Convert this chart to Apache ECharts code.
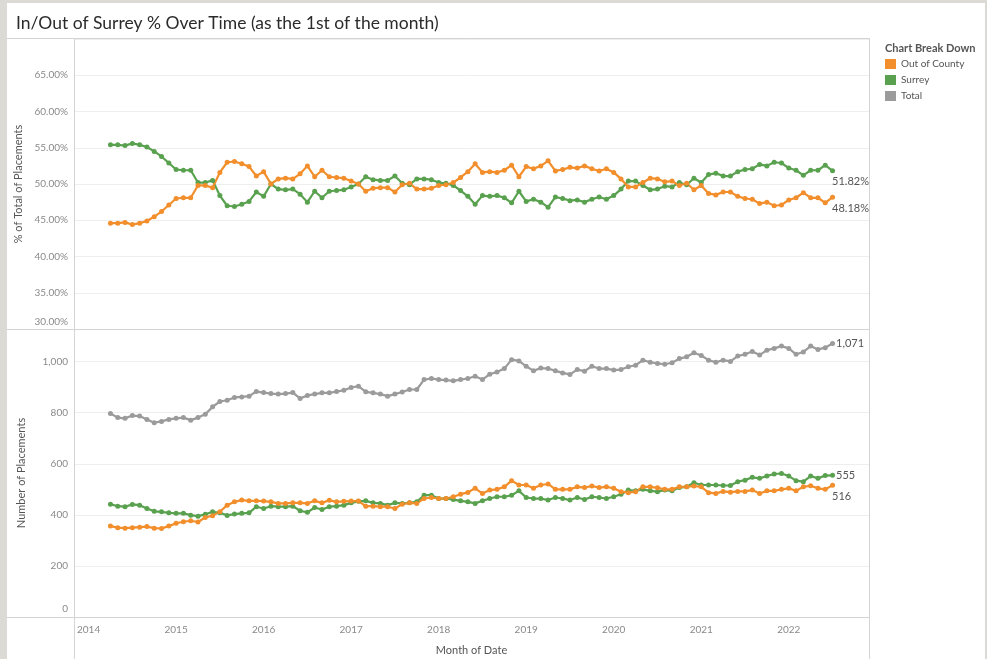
<!DOCTYPE html>
<html>
<head>
<meta charset="utf-8">
<script src="https://cdn.jsdelivr.net/npm/echarts@6/dist/echarts.min.js"></script>
<style>
  html, body { margin: 0; padding: 0; background: #dcdad5; }
  #sheet { position: absolute; left: 7px; top: 3px; width: 978px; height: 656px; background: #fff; }
  #chart { position: absolute; left: 0; top: 0; width: 987px; height: 659px; }
</style>
</head>
<body>
<div id="sheet"></div>
<div id="chart"></div>
<script>
// months are counted from Jan 2014 (0); first point is Apr 2014
const FIRST_MONTH = 3;
const YEARS = [2014, 2015, 2016, 2017, 2018, 2019, 2020, 2021, 2022];

// % of total placements
const pctOut = [
  44.6, 44.6, 44.7, 44.4, 44.6, 44.9, 45.5, 46.2, 47.1, 48.0, 48.1, 48.1, 49.8, 49.8, 49.5, 51.6, 53.0, 53.1, 52.8, 52.4,
  51.1, 51.7, 50.0, 50.7, 50.8, 50.7, 51.4, 52.5, 51.0, 51.9, 51.0, 50.9, 50.8, 50.4, 50.0,
  49.0, 49.4, 49.5, 49.5, 48.9, 49.9, 50.1, 49.3, 49.3, 49.4, 49.8, 49.9, 50.2, 50.9, 51.7, 52.8, 51.6, 51.7, 51.6, 51.9,
  52.6, 51.0, 52.4, 52.1, 52.5, 53.2, 51.8, 52.0, 52.3, 52.2, 52.5, 52.1,
  51.8, 52.1, 51.6, 50.7, 49.6, 49.6, 50.2, 50.8, 50.7, 50.3, 50.4, 49.8, 50.1, 49.2, 49.8, 48.7, 48.5, 48.9, 48.9, 48.3,
  48.0, 47.9, 47.3, 47.5, 47.0, 47.1, 47.8, 48.1, 48.8, 48.1, 48.1, 47.4, 48.18
];
const pctSurrey = [
  55.4, 55.4, 55.3, 55.6, 55.4, 55.1, 54.5, 53.8, 52.9, 52.0, 51.9, 51.9, 50.2, 50.2, 50.5, 48.4, 47.0, 46.9, 47.2, 47.6,
  48.9, 48.3, 50.0, 49.3, 49.2, 49.3, 48.6, 47.5, 49.0, 48.1, 49.0, 49.1, 49.2, 49.6, 50.0,
  51.0, 50.6, 50.5, 50.5, 51.1, 50.1, 49.9, 50.7, 50.7, 50.6, 50.2, 50.1, 49.8, 49.1, 48.3, 47.2, 48.4, 48.3, 48.4, 48.1,
  47.4, 49.0, 47.6, 47.9, 47.5, 46.8, 48.2, 48.0, 47.7, 47.8, 47.5, 47.9,
  48.2, 47.9, 48.4, 49.3, 50.4, 50.4, 49.8, 49.2, 49.3, 49.7, 49.6, 50.2, 49.9, 50.8, 50.2, 51.3, 51.5, 51.1, 51.1, 51.7,
  52.0, 52.1, 52.7, 52.5, 53.0, 52.9, 52.2, 51.9, 51.2, 51.9, 51.9, 52.6, 51.82
];

// number of placements
const numOut = [
  356, 350, 348, 350, 352, 354, 348, 347, 356, 367, 373, 377, 372, 390, 397, 412, 438, 451, 458, 455,
  455, 454, 451, 445, 445, 447, 447, 445, 455, 447, 457, 451, 453, 454, 454,
  434, 434, 432, 432, 425, 442, 447, 445, 464, 468, 464, 464, 471, 481, 488, 504, 484, 497, 500, 510,
  534, 517, 517, 504, 517, 521, 500, 500, 500, 510, 507, 513,
  507, 510, 504, 491, 487, 491, 510, 510, 506, 500, 500, 510, 510, 513, 510, 487, 484, 492, 489, 492,
  492, 497, 484, 494, 494, 500, 504, 494, 510, 514, 504, 500, 516
];
const numSurrey = [
  442, 434, 432, 441, 438, 425, 414, 412, 408, 406, 406, 399, 395, 402, 412, 408, 398, 403, 406, 408,
  432, 425, 434, 432, 432, 434, 416, 410, 429, 421, 432, 434, 438, 447, 453,
  455, 447, 445, 438, 447, 445, 447, 451, 477, 477, 464, 464, 460, 455, 451, 445, 455, 464, 471, 471,
  477, 494, 468, 464, 464, 458, 468, 464, 458, 468, 460, 471,
  468, 464, 471, 481, 497, 494, 500, 494, 491, 497, 494, 507, 510, 526, 517, 517, 517, 515, 515, 530,
  536, 547, 543, 552, 560, 562, 552, 534, 530, 552, 543, 554, 555
];
const numTotal = [
  797, 781, 778, 789, 787, 774, 761, 766, 774, 778, 781, 771, 781, 794, 823, 844, 849, 860, 862, 865,
  883, 879, 875, 873, 875, 879, 856, 868, 873, 878, 878, 883, 888, 899, 904,
  882, 878, 873, 865, 873, 881, 891, 891, 930, 934, 930, 928, 925, 930, 934, 943, 930, 951, 960, 973,
  1008, 1003, 982, 964, 975, 973, 964, 956, 950, 969, 963, 982,
  973, 973, 967, 969, 980, 986, 1006, 998, 993, 990, 996, 1012, 1019, 1035, 1024, 1006, 998, 1006, 1001, 1022,
  1029, 1040, 1026, 1045, 1052, 1061, 1052, 1029, 1038, 1061, 1048, 1055, 1071
];

const FONT = "Lato, 'Noto Sans', sans-serif";
const COLORS = { out: "#f28e2b", surrey: "#59a14f", total: "#9b9b9b" };

function pts(values, endLabel) {
  return values.map((v, i) => {
    const p = [FIRST_MONTH + i, v];
    if (i === values.length - 1) return { value: p, label: Object.assign({ show: true }, endLabel) };
    return p;
  });
}
const fmtPct = (p) => p.value[1].toFixed(2) + "%";
const fmtNum = (p) => p.value[1].toLocaleString("en-US");
const endRight = { position: "right", distance: 1 };
const endBelow = { position: "right", distance: 1, offset: [-4, 11] };

function lineSeries(name, color, values, grid, fmt, endLabel) {
  return {
    name: name,
    type: "line",
    xAxisIndex: grid,
    yAxisIndex: grid,
    data: pts(values, endLabel),
    symbol: "circle",
    symbolSize: 5,
    showAllSymbol: true,
    lineStyle: { width: 2.2, color: color },
    itemStyle: { color: color },
    label: { show: false, formatter: fmt, color: "#555", fontSize: 11, fontFamily: FONT },
    emphasis: { disabled: true },
  };
}

const xBase = {
  type: "value",
  min: -2,
  max: 107,
  axisLine: { show: false },
  axisTick: { show: false },
  splitLine: { show: false },
};
const lineStyleFrame = { stroke: "#d4d4d4", lineWidth: 1 };
const frame = [
  [7, 38.5, 869, 38.5],
  [7, 329.5, 869, 329.5],
  [7, 617.5, 869, 617.5],
  [74.5, 38, 74.5, 659],
  [869.5, 38, 869.5, 659],
].map(([x1, y1, x2, y2]) => ({
  type: "line",
  shape: { x1, y1, x2, y2 },
  style: lineStyleFrame,
  silent: true,
  z: 100,
}));

const myChart = echarts.init(document.getElementById("chart"));
myChart.setOption({
  animation: false,
  textStyle: { fontFamily: FONT },
  title: [
    {
      text: "In/Out of Surrey % Over Time (as the 1st of the month)",
      left: 11,
      top: 9,
      textStyle: { fontSize: 17.5, fontWeight: "normal", color: "#2b2b2b", fontFamily: FONT },
    },
    {
      text: "Chart Break Down",
      left: 880,
      top: 38,
      textStyle: { fontSize: 11, fontWeight: "bold", color: "#555", fontFamily: FONT },
    },
  ],
  legend: {
    data: ["Out of County", "Surrey", "Total"],
    orient: "vertical",
    left: 880,
    top: 54,
    icon: "rect",
    itemWidth: 11,
    itemHeight: 10,
    itemGap: 6,
    selectedMode: false,
    textStyle: { fontSize: 10, color: "#555", fontFamily: FONT },
  },
  grid: [
    { left: 74, right: 118, top: 39, height: 290 },
    { left: 74, right: 118, top: 329, height: 288 },
  ],
  xAxis: [
    Object.assign({ gridIndex: 0, axisLabel: { show: false } }, xBase),
    Object.assign({ gridIndex: 1 }, xBase, {
      name: "Month of Date",
      nameLocation: "middle",
      nameGap: 28,
      nameTextStyle: { fontSize: 11, color: "#555", fontFamily: FONT },
      axisLabel: {
        customValues: YEARS.map((y) => (y - 2014) * 12),
        formatter: (v) => String(2014 + v / 12),
        margin: 8,
        fontSize: 10,
        color: "#8a8a8a",
        fontFamily: FONT,
      },
    }),
  ],
  yAxis: [
    {
      gridIndex: 0,
      type: "value",
      min: 30,
      max: 70,
      interval: 5,
      name: "% of Total of Placements",
      nameLocation: "middle",
      nameGap: 47,
      nameTextStyle: { fontSize: 11, color: "#555", fontFamily: FONT },
      axisLine: { show: false },
      axisTick: { show: false },
      splitLine: { lineStyle: { color: "#eeeeee" } },
      axisLabel: {
        margin: 6,
        fontSize: 10,
        color: "#8a8a8a",
        fontFamily: FONT,
        formatter: (v) => (v === 70 ? "" : v === 30 ? "{lo|30.00%}" : v.toFixed(2) + "%"),
        rich: { lo: { fontSize: 10, color: "#8a8a8a", fontFamily: FONT, padding: [0, 0, 14, 0] } },
      },
    },
    {
      gridIndex: 1,
      type: "value",
      min: 0,
      max: 1128,
      interval: 200,
      name: "Number of Placements",
      nameLocation: "middle",
      nameGap: 47,
      nameTextStyle: { fontSize: 11, color: "#555", fontFamily: FONT },
      axisLine: { show: false },
      axisTick: { show: false },
      splitLine: { lineStyle: { color: "#eeeeee" } },
      axisLabel: {
        margin: 6,
        fontSize: 10,
        color: "#8a8a8a",
        fontFamily: FONT,
        formatter: (v) => (v % 200 !== 0 ? "" : v === 0 ? "{lo|0}" : v.toLocaleString("en-US")),
        rich: { lo: { fontSize: 10, color: "#8a8a8a", fontFamily: FONT, padding: [0, 0, 16, 0] } },
      },
    },
  ],
  series: [
    lineSeries("Surrey", COLORS.surrey, pctSurrey, 0, fmtPct, endBelow),
    lineSeries("Out of County", COLORS.out, pctOut, 0, fmtPct, endBelow),
    lineSeries("Total", COLORS.total, numTotal, 1, fmtNum, endRight),
    lineSeries("Surrey", COLORS.surrey, numSurrey, 1, fmtNum, endRight),
    lineSeries("Out of County", COLORS.out, numOut, 1, fmtNum, endBelow),
  ],
  graphic: frame,
});
</script>
</body>
</html>
